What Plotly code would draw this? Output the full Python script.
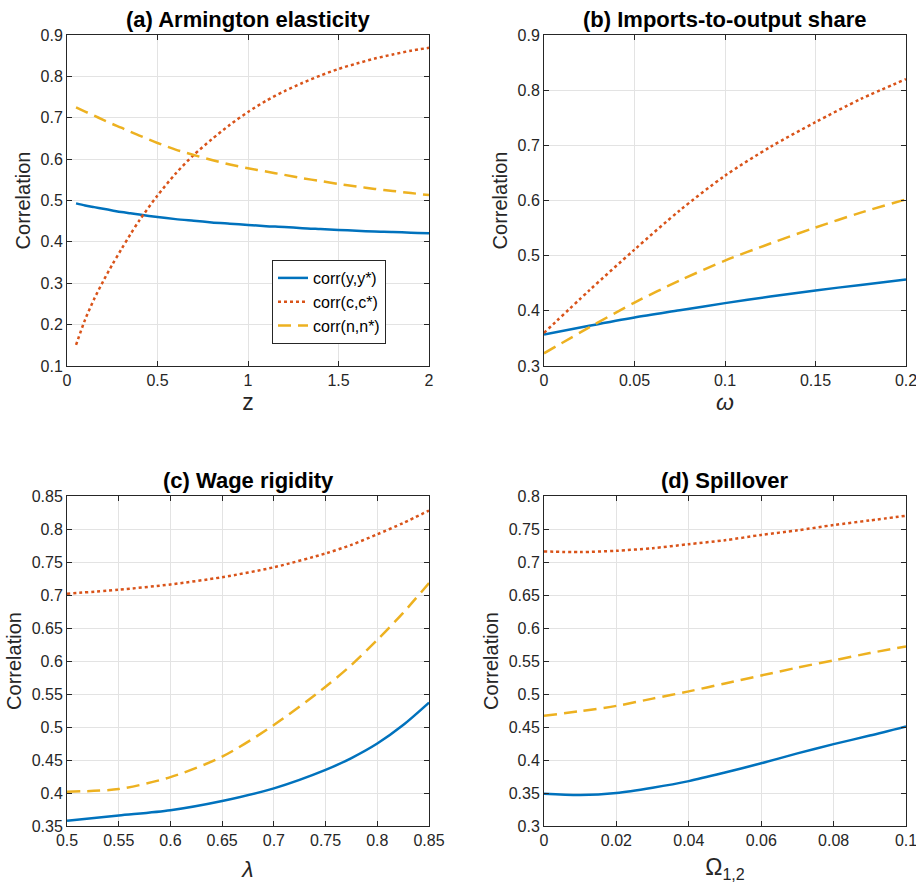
import plotly.graph_objects as go

# ---------------- data ----------------
# (a) Armington elasticity
z = [0.05, 0.1, 0.15, 0.2, 0.25, 0.3, 0.35, 0.4, 0.5, 0.6, 0.7, 0.8, 0.9, 1.0,
     1.1, 1.2, 1.3, 1.4, 1.5, 1.6, 1.7, 1.8, 1.9, 2.0]
a_y = [0.493, 0.488, 0.484, 0.480, 0.476, 0.472, 0.469, 0.466, 0.460, 0.455, 0.451, 0.447,
       0.444, 0.441, 0.438, 0.436, 0.433, 0.431, 0.429, 0.427, 0.425, 0.424, 0.422, 0.421]
a_c = [0.151, 0.212, 0.262, 0.305, 0.345, 0.382, 0.418, 0.452, 0.512, 0.565, 0.610, 0.648,
       0.683, 0.714, 0.741, 0.764, 0.784, 0.802, 0.818, 0.831, 0.843, 0.853, 0.862, 0.869]
a_n = [0.725, 0.715, 0.705, 0.695, 0.685, 0.676, 0.666, 0.657, 0.639, 0.623, 0.610, 0.598,
       0.587, 0.578, 0.570, 0.562, 0.554, 0.547, 0.540, 0.534, 0.528, 0.523, 0.518, 0.513]

# (b) Imports-to-output share
omega = [0.0, 0.025, 0.05, 0.075, 0.1, 0.125, 0.15, 0.175, 0.2]
b_y = [0.357, 0.373, 0.388, 0.401, 0.414, 0.426, 0.437, 0.447, 0.457]
b_c = [0.360, 0.437, 0.511, 0.582, 0.645, 0.697, 0.742, 0.784, 0.820]
b_n = [0.323, 0.370, 0.415, 0.455, 0.491, 0.522, 0.551, 0.578, 0.602]

# (c) Wage rigidity
lam = [0.5, 0.55, 0.6, 0.65, 0.7, 0.75, 0.775, 0.8, 0.825, 0.85]
c_y = [0.358, 0.366, 0.374, 0.388, 0.407, 0.435, 0.453, 0.475, 0.503, 0.537]
c_c = [0.702, 0.708, 0.716, 0.727, 0.742, 0.763, 0.776, 0.792, 0.809, 0.828]
c_n = [0.402, 0.406, 0.424, 0.455, 0.503, 0.561, 0.594, 0.632, 0.673, 0.718]

# (d) Spillover
om12 = [0.0, 0.01, 0.02, 0.03, 0.04, 0.05, 0.06, 0.07, 0.08, 0.09, 0.1]
d_y = [0.349, 0.347, 0.350, 0.358, 0.368, 0.381, 0.395, 0.410, 0.424, 0.437, 0.451]
d_c = [0.716, 0.715, 0.717, 0.721, 0.727, 0.733, 0.741, 0.748, 0.756, 0.763, 0.770]
d_n = [0.467, 0.474, 0.482, 0.493, 0.504, 0.516, 0.528, 0.540, 0.551, 0.562, 0.572]

series_names = ["corr(y,y*)", "corr(c,c*)", "corr(n,n*)"]
titles = ["(a) Armington elasticity", "(b) Imports-to-output share",
          "(c) Wage rigidity", "(d) Spillover"]
xlabels = ["z", "<i>ω</i>", "<i>λ</i>", "Ω<sub>1,2</sub>"]

a_xticks = [0, 0.5, 1, 1.5, 2]
a_xtext = ["0", "0.5", "1", "1.5", "2"]
a_yticks = [0.1, 0.2, 0.3, 0.4, 0.5, 0.6, 0.7, 0.8, 0.9]
a_ytext = ["0.1", "0.2", "0.3", "0.4", "0.5", "0.6", "0.7", "0.8", "0.9"]
b_xticks = [0, 0.05, 0.1, 0.15, 0.2]
b_xtext = ["0", "0.05", "0.1", "0.15", "0.2"]
b_yticks = [0.3, 0.4, 0.5, 0.6, 0.7, 0.8, 0.9]
b_ytext = ["0.3", "0.4", "0.5", "0.6", "0.7", "0.8", "0.9"]
c_xticks = [0.5, 0.55, 0.6, 0.65, 0.7, 0.75, 0.8, 0.85]
c_xtext = ["0.5", "0.55", "0.6", "0.65", "0.7", "0.75", "0.8", "0.85"]
c_yticks = [0.35, 0.4, 0.45, 0.5, 0.55, 0.6, 0.65, 0.7, 0.75, 0.8, 0.85]
c_ytext = ["0.35", "0.4", "0.45", "0.5", "0.55", "0.6", "0.65", "0.7", "0.75", "0.8", "0.85"]
d_xticks = [0, 0.02, 0.04, 0.06, 0.08, 0.1]
d_xtext = ["0", "0.02", "0.04", "0.06", "0.08", "0.1"]
d_yticks = [0.3, 0.35, 0.4, 0.45, 0.5, 0.55, 0.6, 0.65, 0.7, 0.75, 0.8]
d_ytext = ["0.3", "0.35", "0.4", "0.45", "0.5", "0.55", "0.6", "0.65", "0.7", "0.75", "0.8"]

# ---------------- styling ----------------
W, H = 916, 889
BLUE, RED, YEL = "#0072BD", "#D95319", "#EDB120"
AX = "#262626"
GRID = "#e3e3e3"
FONT = "Liberation Sans, Arial, sans-serif"

styles = [dict(color=BLUE, width=2.5, dash="solid"),
          dict(color=RED, width=2.5, dash="dot"),
          dict(color=YEL, width=2.5, dash="13px,7px")]

panels = [
    (z, [a_y, a_c, a_n], [0, 2], [0.1, 0.9], a_xticks, a_xtext, a_yticks, a_ytext),
    (omega, [b_y, b_c, b_n], [0, 0.2], [0.3, 0.9], b_xticks, b_xtext, b_yticks, b_ytext),
    (lam, [c_y, c_c, c_n], [0.5, 0.85], [0.35, 0.85], c_xticks, c_xtext, c_yticks, c_ytext),
    (om12, [d_y, d_c, d_n], [0, 0.1], [0.3, 0.8], d_xticks, d_xtext, d_yticks, d_ytext),
]

# pixel boxes (left, right, top, bottom)
boxes = [(67, 429, 35, 366), (544, 906, 35, 366),
         (67, 429, 496, 826), (544, 906, 496, 826)]
xstandoff = [4, 4, 12, 10]
title_cy = [20, 20, 480, 480]

fig = go.Figure()
layout = dict(width=W, height=H, margin=dict(l=0, r=0, t=0, b=0, autoexpand=False),
              paper_bgcolor="white", plot_bgcolor="white",
              font=dict(family=FONT, color=AX, size=16))
annotations = []

for i, (xs, ys, xr, yr, xt, xtt, yt, ytt) in enumerate(panels):
    k = "" if i == 0 else str(i + 1)
    for j, yv in enumerate(ys):
        fig.add_trace(go.Scatter(
            x=xs, y=yv, mode="lines", name=series_names[j],
            line=dict(shape="spline", smoothing=0.8, **styles[j]),
            xaxis="x" + k, yaxis="y" + k, showlegend=(i == 0)))
    l, r, t, b = boxes[i]
    common = dict(showline=True, linecolor=AX, linewidth=1, mirror="ticks",
                  ticks="inside", ticklen=5, tickcolor=AX,
                  showgrid=True, gridcolor=GRID, gridwidth=1, automargin=False,
                  ticklabeloverflow="allow",
                  zeroline=False, tickfont=dict(size=16, color=AX, family=FONT))
    layout["xaxis" + k] = dict(domain=[l / W, r / W], range=xr, anchor="y" + k,
                               tickmode="array", tickvals=xt, ticktext=xtt,
                               title=dict(text=xlabels[i], font=dict(size=23, color=AX),
                                          standoff=xstandoff[i]),
                               **common)
    layout["yaxis" + k] = dict(domain=[1 - b / H, 1 - t / H], range=yr, anchor="x" + k,
                               tickmode="array", tickvals=yt, ticktext=ytt,
                               title=dict(text="Correlation", font=dict(size=20, color=AX),
                                          standoff=4),
                               **common)
    annotations.append(dict(text="<b>" + titles[i] + "</b>", xref="paper", yref="paper",
                            x=(l + r) / 2 / W, y=1 - title_cy[i] / H, xanchor="center",
                            yanchor="middle", showarrow=False,
                            font=dict(size=22, color="black", family=FONT)))

layout["annotations"] = annotations
layout["legend"] = dict(x=272 / W, y=1 - 260 / H, xanchor="left", yanchor="top",
                        bgcolor="white", bordercolor=AX, borderwidth=1,
                        font=dict(size=16, color="black", family=FONT),
                        tracegroupgap=0, itemwidth=30)
fig.update_layout(**layout)
fig.write_html("out.html",
               config={"displayModeBar": False},
               post_script="document.body.style.margin='0';document.body.style.overflow='hidden';")
